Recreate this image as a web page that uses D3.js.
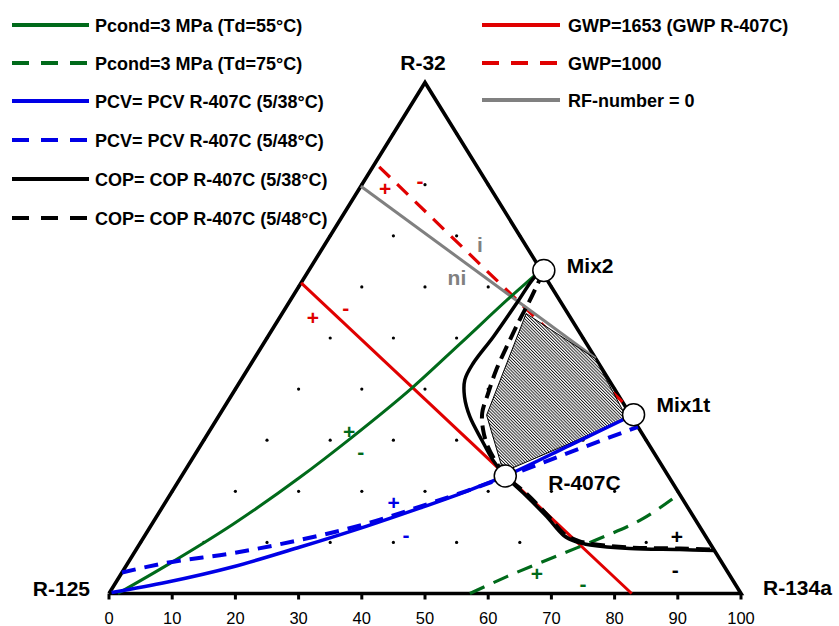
<!DOCTYPE html>
<html><head><meta charset="utf-8">
<script src="https://cdn.jsdelivr.net/npm/d3@7"></script>
<style>
body{margin:0;background:#fff}
svg{display:block}
text{font-family:"Liberation Sans",Arial,Helvetica,sans-serif}
</style>
</head><body>
<svg id="chart" width="839" height="626"></svg>
<script>
// ---- DATA: points are [R-134a %, R-32 %]; R-125 = 100 - both ----
const axisTicks = [0,10,20,30,40,50,60,70,80,90,100];
const gridLevels = [10,20,30,40,50,60,70,80,90];

const pcond55 = [[1.4,0],[6.4,5.56],[12.84,13.56],[18.85,22.74],[23.0,30.27],[27.9,40.39],[31.1,48.85],[34.68,58.49],[36.48,62.8]];
const pcond75 = [[57.1,0],[61.3,3.3],[68.0,7.9],[72.3,10.8],[77.2,14.7],[80.5,19.5]];
const pcv38 = [[0.3,0.2],[8.0,2.2],[17.05,5.24],[25.7,9.1],[34.2,13.2],[40.8,16.7],[46.4,19.9],[51.2,23],[58.4,29],[65.5,35]];
const pcv48 = [[0,4.1],[6.1,6.0],[15.7,7.9],[25.0,10.5],[34.0,13.7],[40.7,17.0],[46.6,20.1],[51.0,22.6],[59.4,27.8],[67.4,32.6]];
const cop38 = [[37.2,63.2],[36.4,62],[36.1,56.8],[35.7,50.3],[35.1,45],[35.4,41.8],[37,38.5],[39.8,34.6],[44,30],[47.7,26.1],[51.2,23],[55.8,19.6],[61.8,15],[66.2,11.4],[68.9,10.1],[71.4,9.5],[78,8.8],[86,8.6],[91.6,8.4]];
const cop48 = [[37.2,63.2],[37.9,57.4],[38.2,53.5],[38.7,49],[39.4,43.7],[40.4,39.2],[41.4,35.3],[43.2,32],[45.6,28.7],[48.6,25.5],[51.2,23],[55.9,19.8],[62.0,15.1],[66.4,11.5],[69.1,10.3],[71.6,9.7],[78,9.0],[86,8.8],[91.4,8.6]];
const gwp1653 = [[0,60.8],[82.7,0]];
const gwp1000 = [[1,83.5],[62.5,37.5]];
const rfZero = [[0,79.7],[54,46]];
const feasibleRegion = [[38.6,54.8],[53.9,46],[63.6,35.6],[64.6,34],[50.5,23.8],[42.3,34.9]];

const mixtures = [
  {name:"Mix2", p:[37.2,63.2], dx:23, dy:2},
  {name:"Mix1t", p:[65.5,35], dx:23, dy:-3},
  {name:"R-407C", p:[51.2,23], dx:43, dy:14}
];
const vertexLabels = [
  {name:"R-125", p:[0,0], dx:-19, dy:2, anchor:"end"},
  {name:"R-134a", p:[100,0], dx:22, dy:1, anchor:"start"},
  {name:"R-32", p:[0,100], dx:-2, dy:-13, anchor:"middle"}
];
const signs = [
  ["+","#e00000",4.1,79.2],["-","#e00000",8.8,80.8],
  ["+","#e00000",5.2,54.1],["-","#e00000",9.5,55.9],
  ["+","#006a1a",22.1,31.8],["-","#006a1a",26.0,27.7],
  ["+","#0000e6",36.1,17.9],["-","#0000e6",41.2,11.6],
  ["+","#006a1a",65.7,4.0],["-","#006a1a",74.0,2.0],
  ["+","#000",84.3,11.1],["-","#000",87.3,4.6],
  ["i","#808080",24.6,68.2],["ni","#808080",24.1,61.9]
];

const legendLeft = [
  {label:"Pcond=3 MPa (Td=55°C)", color:"#006a1a", dash:null},
  {label:"Pcond=3 MPa (Td=75°C)", color:"#006a1a", dash:"17,12"},
  {label:"PCV= PCV R-407C (5/38°C)", color:"#0000e6", dash:null},
  {label:"PCV= PCV R-407C (5/48°C)", color:"#0000e6", dash:"17,12"},
  {label:"COP= COP R-407C (5/38°C)", color:"#000", dash:null},
  {label:"COP= COP R-407C (5/48°C)", color:"#000", dash:"17,12"}
];
const legendRight = [
  {label:"GWP=1653 (GWP R-407C)", color:"#e00000", dash:null},
  {label:"GWP=1000", color:"#e00000", dash:"17,12"},
  {label:"RF-number = 0", color:"#808080", dash:null}
];

// ---- SCALES ----
const svg = d3.select("#chart");
const xs = d3.scaleLinear().domain([0,100]).range([109,741]);
const ys = d3.scaleLinear().domain([0,100]).range([593.5,82.5]);
const px = d => xs(d[0] + d[1]/2);
const py = d => ys(d[1]);

// hatch pattern
const defs = svg.append("defs");
const pat = defs.append("pattern").attr("id","hatch").attr("patternUnits","userSpaceOnUse")
  .attr("width",2.2).attr("height",2.2).attr("patternTransform","rotate(-45)");
pat.append("rect").attr("width",2.2).attr("height",2.2).attr("fill","#fff");
pat.append("line").attr("x1",0.5).attr("y1",0).attr("x2",0.5).attr("y2",2.2).attr("stroke","#000").attr("stroke-width",0.85);

// grid dots
const grid = [];
gridLevels.forEach(c => { for (let b=0; b<=100-c; b+=10) grid.push([b,c]); });
svg.append("g").selectAll("circle").data(grid).join("circle")
  .attr("cx",px).attr("cy",py).attr("r",1.6).attr("fill","#000");

// triangle
const tri = [[0,0],[100,0],[0,100]];
svg.append("path").attr("d", d3.line().x(px).y(py)(tri.concat([tri[0]])))
  .attr("fill","none").attr("stroke","#000").attr("stroke-width",3.6).attr("stroke-linejoin","miter");

// bottom axis ticks
const ax = svg.append("g");
ax.selectAll("line").data(axisTicks).join("line")
  .attr("x1",d=>xs(d)).attr("x2",d=>xs(d)).attr("y1",ys(0)).attr("y2",ys(0)+6)
  .attr("stroke","#000").attr("stroke-width",3);
ax.selectAll("text").data(axisTicks).join("text")
  .attr("x",d=>xs(d)).attr("y",ys(0)+30).attr("text-anchor","middle")
  .attr("font-size",16.5).text(d=>d);

const curve = d3.line().x(px).y(py).curve(d3.curveCatmullRom.alpha(0.5));
const mono = d3.line().x(px).y(py).curve(d3.curveMonotoneX);
const straight = d3.line().x(px).y(py);

function draw(data, color, width, dash, gen) {
  svg.append("path").attr("d",(gen||curve)(data)).attr("fill","none")
    .attr("stroke",color).attr("stroke-width",width)
    .attr("stroke-dasharray",dash).attr("stroke-linecap","butt");
}

draw(gwp1653, "#e00000", 3, null, straight);
draw(gwp1000, "#e00000", 3.2, "15,10", straight);
draw(rfZero, "#808080", 3, null, straight);

// feasible region
svg.append("path").attr("d", straight(feasibleRegion) + "Z")
  .attr("fill","url(#hatch)").attr("stroke","#000").attr("stroke-width",1);

draw(pcond55, "#006a1a", 3, null, mono);
draw(pcond75, "#006a1a", 3.2, "16,10", mono);
draw(pcv38, "#0000e6", 3.5, null, mono);
draw(pcv48, "#0000e6", 4, "14,9", mono);
draw(cop38, "#000", 3.5, null);
draw(cop48, "#000", 4, "14,7");

// markers
svg.append("g").selectAll("circle").data(mixtures).join("circle")
  .attr("cx",d=>px(d.p)).attr("cy",d=>py(d.p)).attr("r",11)
  .attr("fill","#fff").attr("stroke","#000").attr("stroke-width",1.5);
svg.append("g").selectAll("text").data(mixtures).join("text")
  .attr("x",d=>px(d.p)+d.dx).attr("y",d=>py(d.p)+d.dy)
  .attr("font-size",21).attr("font-weight","bold").text(d=>d.name);

// vertex labels
svg.append("g").selectAll("text").data(vertexLabels).join("text")
  .attr("x",d=>px(d.p)+d.dx).attr("y",d=>py(d.p)+d.dy).attr("text-anchor",d=>d.anchor)
  .attr("font-size",21).attr("font-weight","bold").text(d=>d.name);

// signs
svg.append("g").selectAll("text").data(signs).join("text")
  .attr("x",d=>px([d[2],d[3]])).attr("y",d=>py([d[2],d[3]]))
  .attr("text-anchor","middle").attr("dominant-baseline","central")
  .attr("font-size",21).attr("font-weight","bold")
  .attr("fill",d=>d[1]).text(d=>d[0]);

// legends
function legend(items, x0, x1, tx, ys0) {
  const g = svg.append("g");
  items.forEach((it,i) => {
    const y = ys0[i];
    g.append("line").attr("x1",x0).attr("x2",x1).attr("y1",y).attr("y2",y)
      .attr("stroke",it.color).attr("stroke-width",4).attr("stroke-dasharray",it.dash);
    g.append("text").attr("x",tx).attr("y",y+6.5).attr("font-size",18)
      .attr("font-weight","bold").text(it.label);
  });
}
legend(legendLeft, 12, 89, 95, [25,63,101,140,179,218]);
legend(legendRight, 482, 560, 568, [25,63,100]);
</script>
</body></html>
